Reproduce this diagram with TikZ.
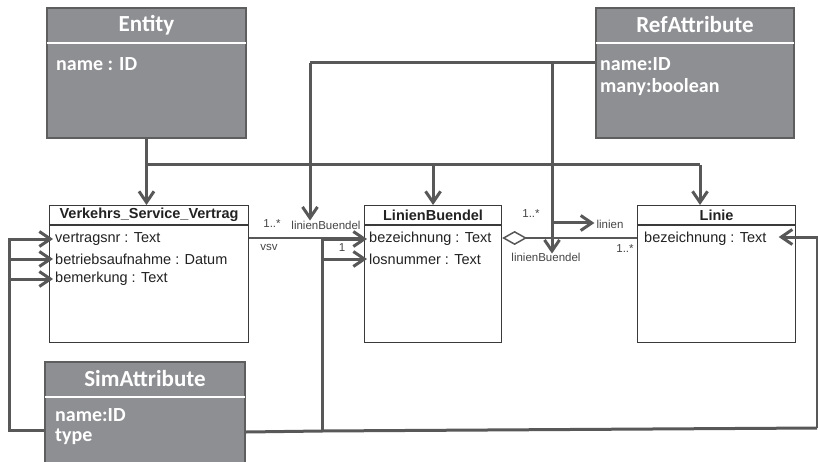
\documentclass[tikz,border=0pt]{standalone}
\usepackage{fontspec}
\setmainfont{Liberation Sans}
\newfontfamily\calfont{Carlito}
\usetikzlibrary{arrows.meta}
\definecolor{gboxfill}{HTML}{8E8F93}
\definecolor{gboxdraw}{HTML}{5E5E5E}
\definecolor{conncol}{HTML}{585858}
\definecolor{umlcol}{HTML}{3A3A3A}
\definecolor{txtcol}{HTML}{222222}
\definecolor{lblcol}{HTML}{444444}
\tikzset{
  graybox/.style={draw=gboxdraw, line width=2pt, fill=gboxfill, anchor=north west, inner sep=0pt},
  umlbox/.style={draw=umlcol, line width=1.1pt, fill=white, anchor=north west, inner sep=0pt},
  graysep/.style={draw=white, line width=2pt},
  umlsep/.style={draw=umlcol, line width=1.1pt},
  conn/.style={draw=conncol, line width=3pt, line join=miter},
  connarrow/.style={conn, -{Straight Barb[length=11pt,width=15pt]}},
  assoc/.style={draw=conncol, line width=1.5pt},
  gtitle/.style={font=\calfont\bfseries\fontsize{23}{26}\selectfont, text=white, inner sep=0pt},
  gattr/.style={font=\calfont\bfseries\fontsize{20}{23}\selectfont, text=white, anchor=west, inner sep=0pt},
  utitle/.style={font=\bfseries\fontsize{14.5}{17}\selectfont, text=txtcol, inner sep=0pt},
  uattr/.style={font=\fontsize{14.5}{17}\selectfont, text=txtcol, anchor=west, inner sep=0pt},
  lbl/.style={font=\fontsize{11.5}{13}\selectfont, text=lblcol, inner sep=0pt},
}
\begin{document}
\begin{tikzpicture}[x=1pt,y=-1pt]
\useasboundingbox (0,0) rectangle (818,462);
\clip (0,0) rectangle (818,462);

% gray boxes
\node[graybox, minimum width=199pt, minimum height=130pt] (entity) at (46,7) {};
\draw[graysep] ([xshift=1pt]entity.west |- 0,43) -- ([xshift=-1pt]entity.east |- 0,43);
\node[gtitle] (entityT) at (entity.north |- 0,25) {Entity};
\node[gattr] (entityA) at (56,64) {name : ID};

\node[graybox, minimum width=198pt, minimum height=130pt] (ref) at (595,7) {};
\draw[graysep] ([xshift=1pt]ref.west |- 0,43) -- ([xshift=-1pt]ref.east |- 0,43);
\node[gtitle] (refT) at (ref.north |- 0,25) {RefAttribute};
\node[gattr] (refA1) at (600,64) {name:ID};
\node[gattr] (refA2) at (600,87) {many:boolean};

\node[graybox, minimum width=200pt, minimum height=110pt] (sim) at (44,361) {};
\draw[graysep] ([xshift=1pt]sim.west |- 0,397) -- ([xshift=-1pt]sim.east |- 0,397);
\node[gtitle] (simT) at (sim.north |- 0,379) {SimAttribute};
\node[gattr] (simA1) at (55,415) {name:ID};
\node[gattr] (simA2) at (55,437) {type};

% UML classes
\node[umlbox, minimum width=199pt, minimum height=137pt] (vsv) at (49,205) {};
\draw[umlsep] (vsv.west |- 0,225) -- (vsv.east |- 0,225);
\node[utitle] (vsvT) at (vsv.north |- 0,215) {Verkehrs\_Service\_Vertrag};
\node[uattr] (vsvA1) at (55,239) {vertragsnr : Text};
\node[uattr] (vsvA2) at (55,259) {betriebsaufnahme : Datum};
\node[uattr] (vsvA3) at (55,279) {bemerkung : Text};

\node[umlbox, minimum width=137pt, minimum height=137pt] (lb) at (364,205) {};
\draw[umlsep] (lb.west |- 0,225) -- (lb.east |- 0,225);
\node[utitle] (lbT) at (lb.north |- 0,215) {LinienBuendel};
\node[uattr] (lbA1) at (369,239) {bezeichnung : Text};
\node[uattr] (lbA2) at (369,259) {losnummer : Text};

\node[umlbox, minimum width=158pt, minimum height=137pt] (linie) at (637,205) {};
\draw[umlsep] (linie.west |- 0,225) -- (linie.east |- 0,225);
\node[utitle] (linieT) at (linie.north |- 0,215) {Linie};
\node[uattr] (linieA1) at (644,239) {bezeichnung : Text};

% association labels
\node[lbl] (m1) at (272,224) {1..*};
\node[lbl] (rn1) at (326,225) {linienBuendel};
\node[lbl] (rvsv) at (269,247) {vsv};
\node[lbl] (m2) at (342,248) {1};
\node[lbl] (m3) at (531,214) {1..*};
\node[lbl] (rlinien) at (610,224) {linien};
\node[lbl] (rn2) at (546,257) {linienBuendel};
\node[lbl] (m4) at (625,249) {1..*};

% associations
\draw[assoc] (vsv.east |- 0,238) -- (lb.west |- 0,238);
\draw[assoc, {Diamond[open,length=25pt,width=14pt]}-] (lb.east |- 0,238) -- (linie.west |- 0,238);

% Entity generalisation connectors
\coordinate (busL) at (entity.south |- 0,165);
\coordinate (busR) at (700,165);
\draw[connarrow] (entity.south) -- (entity.south |- vsv.north);
\draw[conn] (busL) -- (busR);
\draw[connarrow] (lb.north |- busL) -- (lb.north);
\draw[connarrow] (busR) -- (busR |- linie.north);

% RefAttribute connectors
\coordinate (rA) at (310,63);
\coordinate (rB) at (552,63);
\coordinate (rC) at (552,223);
\draw[conn] (ref.west |- rA) -- (rA);
\draw[connarrow] (rA) -- (rA |- rn1.north);
\draw[connarrow] (rB) -- ([yshift=-1pt]rB |- rn2.north);
\draw[connarrow] (rC) -- ([xshift=-2pt]rlinien.west |- rC);

% SimAttribute connectors
\coordinate (sL) at (9,430);
\coordinate (sR) at (322,431);
\coordinate (sE) at (817,428);
\draw[connarrow] (sim.west |- sL) -- (sL) -- (sL |- vsvA1) -- ([xshift=-2pt]vsvA1.west);
\draw[connarrow] (sL |- vsvA2) -- ([xshift=-2pt]vsvA2.west);
\draw[connarrow] (sL |- vsvA3) -- ([xshift=-2pt]vsvA3.west);
\draw[conn] (sim.east |- 0,432) -- (sR) -- (sE);
\draw[connarrow] (sR) -- (sR |- lbA1) -- ([xshift=-2pt]lbA1.west);
\draw[connarrow] (sR |- lbA2) -- ([xshift=-2pt]lbA2.west);
\draw[connarrow] (sE) -- (sE |- 0,237) -- ([xshift=12pt]linieA1.east |- 0,237);
\end{tikzpicture}
\end{document}
